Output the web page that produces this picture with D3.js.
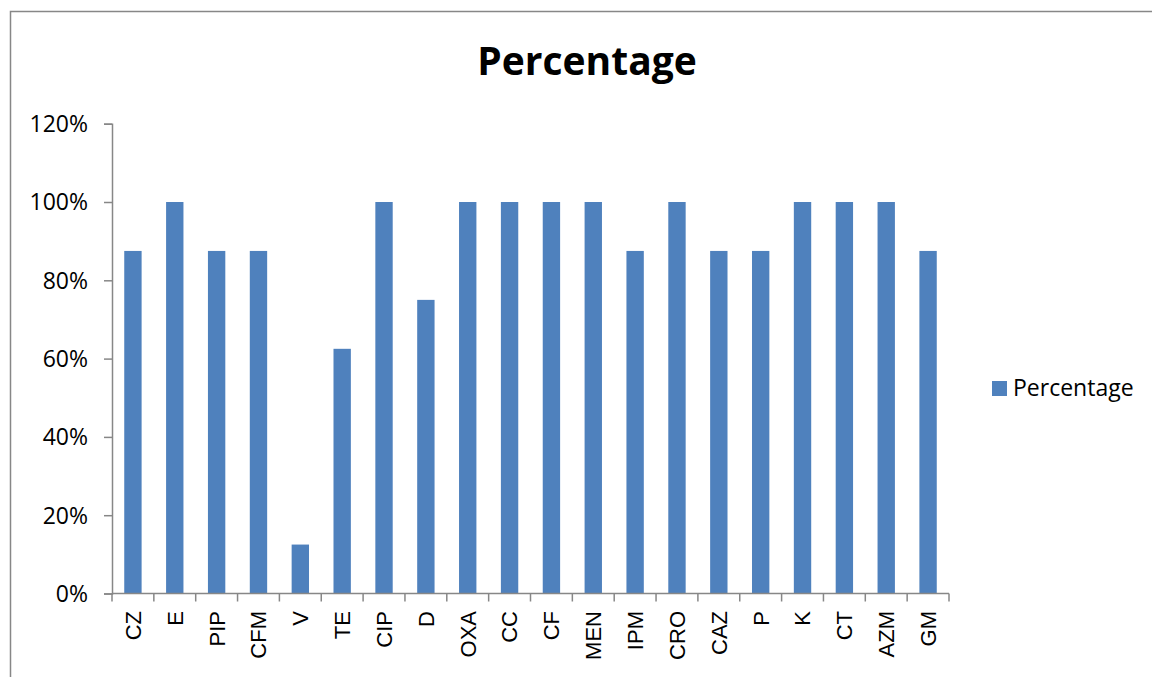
<!DOCTYPE html>
<html>
<head>
<meta charset="utf-8">
<script src="https://cdn.jsdelivr.net/npm/d3@7"></script>
<style>
  html, body { margin: 0; padding: 0; background: #fff; }
  svg { display: block; }
</style>
</head>
<body>
<svg id="chart" width="1152" height="677"></svg>
<script>
// Share of isolates per antibiotic
const categories = ["CZ", "E", "PIP", "CFM", "V", "TE", "CIP", "D", "OXA", "CC",
                    "CF", "MEN", "IPM", "CRO", "CAZ", "P", "K", "CT", "AZM", "GM"];
const percentages = [87.5, 100, 87.5, 87.5, 12.5, 62.5, 100, 75, 100, 100,
                     100, 100, 87.5, 100, 87.5, 87.5, 100, 100, 100, 87.5];
const yTicks = [0, 20, 40, 60, 80, 100, 120];
const seriesName = "Percentage";
const chartTitle = "Percentage";

const svg = d3.select("#chart");
const axisColor = "#878787";
const barColor = "#4F81BD";

// outer chart frame
svg.append("rect")
  .attr("x", 10.5).attr("y", 11.5)
  .attr("width", 1200).attr("height", 700)
  .attr("fill", "none")
  .attr("stroke", axisColor)
  .attr("stroke-width", 1.5);

const plot = { left: 112, right: 949, top: 123.7, bottom: 593.5 };

const x = d3.scaleBand()
  .domain(categories)
  .range([plot.left, plot.right])
  .paddingInner(0.585)
  .paddingOuter(0.2925);

const y = d3.scaleLinear()
  .domain([0, 120])
  .range([plot.bottom, plot.top]);

// bars
svg.append("g")
  .selectAll("rect")
  .data(categories.map((c, i) => ({ c, v: percentages[i] })))
  .join("rect")
  .attr("x", d => x(d.c))
  .attr("y", d => y(d.v))
  .attr("width", x.bandwidth())
  .attr("height", d => y(0) - y(d.v))
  .attr("fill", barColor);

// y axis
const yAxis = svg.append("g")
  .attr("transform", `translate(${plot.left},0)`)
  .call(d3.axisLeft(y).tickValues(yTicks).tickSize(8).tickPadding(16)
        .tickFormat(d => d + "%"));
yAxis.select(".domain").attr("stroke", axisColor).attr("stroke-width", 1.5);
yAxis.selectAll(".tick line").attr("stroke", axisColor).attr("stroke-width", 1.5);
yAxis.selectAll(".tick text")
  .attr("font-family", "'Open Sans', sans-serif")
  .attr("font-size", 23)
  .attr("fill", "#000")
  .attr("dy", "0.34em");

// x axis line and boundary ticks
const xAxisG = svg.append("g");
xAxisG.append("line")
  .attr("x1", plot.left).attr("x2", plot.right)
  .attr("y1", plot.bottom).attr("y2", plot.bottom)
  .attr("stroke", axisColor).attr("stroke-width", 1.5);
const step = x.step();
const boundaries = d3.range(categories.length + 1).map(i => plot.left + i * step);
xAxisG.selectAll("line.bt")
  .data(boundaries)
  .join("line")
  .attr("class", "bt")
  .attr("x1", d => d).attr("x2", d => d)
  .attr("y1", plot.bottom).attr("y2", plot.bottom + 8)
  .attr("stroke", axisColor).attr("stroke-width", 1.5);

// rotated category labels
xAxisG.selectAll("text")
  .data(categories)
  .join("text")
  .attr("transform", d => `translate(${x(d) + x.bandwidth() / 2},611) rotate(-90)`)
  .attr("text-anchor", "end")
  .attr("dy", "0.36em")
  .attr("font-family", "'Liberation Sans', Arial, sans-serif")
  .attr("font-size", 22)
  .attr("fill", "#000")
  .text(d => d);

// title
svg.append("text")
  .attr("x", 587).attr("y", 75)
  .attr("text-anchor", "middle")
  .attr("font-family", "'Open Sans', sans-serif")
  .attr("font-weight", "bold")
  .attr("font-size", 39)
  .attr("fill", "#000")
  .text(chartTitle);

// legend
const legend = svg.append("g");
legend.append("rect")
  .attr("x", 992).attr("y", 381)
  .attr("width", 15).attr("height", 15)
  .attr("fill", barColor);
legend.append("text")
  .attr("x", 1013).attr("y", 396)
  .attr("font-family", "'Open Sans', sans-serif")
  .attr("font-size", 23)
  .attr("fill", "#000")
  .text(seriesName);
</script>
</body>
</html>
